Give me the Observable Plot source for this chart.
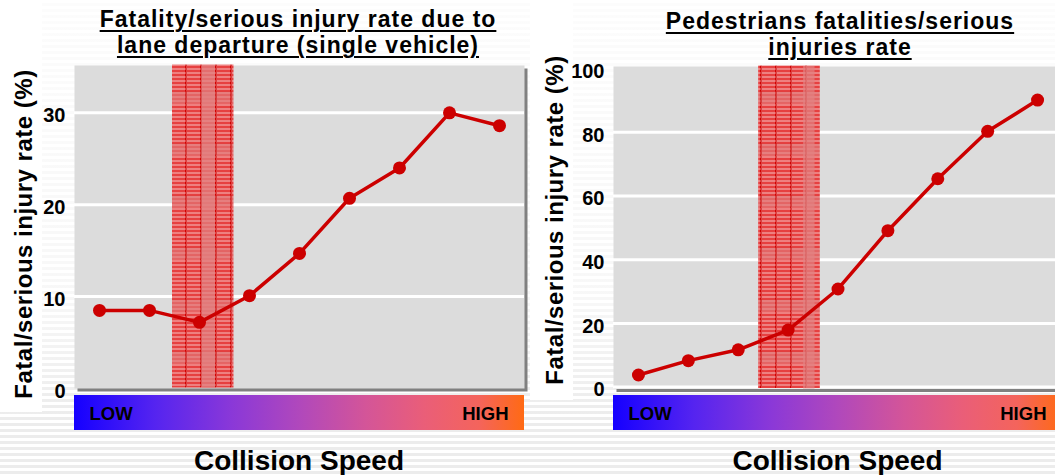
<!DOCTYPE html>
<html>
<head>
<meta charset="utf-8">
<script src="https://cdn.jsdelivr.net/npm/d3@7"></script>
<script src="https://cdn.jsdelivr.net/npm/@observablehq/plot@0.6"></script>
<style>
html, body { margin: 0; padding: 0; width: 1055px; height: 475px; overflow: hidden; background: #fff; }
#page { position: relative; width: 1055px; height: 475px; overflow: hidden; font-family: "Liberation Sans", Arial, Helvetica, sans-serif; color: #000; }
.bg { position: absolute; left: 0; top: 0; width: 1055px; height: 475px;
  background: repeating-linear-gradient(to bottom, #ffffff 0px, #ffffff 3px, #ececec 3px, #ececec 6px); }
.bgfade { position: absolute; left: 0; top: 0; width: 1055px; height: 475px;
  background: linear-gradient(to bottom, rgba(255,255,255,0.85) 0px, rgba(255,255,255,0.6) 300px, rgba(255,255,255,0.0) 420px); }
.whitebox { position: absolute; background: #fff; }
.chart { position: absolute; top: 0; height: 475px; }
.chart svg { max-width: none !important; display: block; }
.title { position: absolute; transform: translateX(-50%); text-align: center; font-size: 23px; font-weight: bold;
  line-height: 26px; letter-spacing: 1px; text-decoration: underline; text-decoration-thickness: 2px;
  text-underline-offset: 3px; white-space: nowrap; }
.ylab { position: absolute; font-size: 24px; font-weight: bold; line-height: 24px; letter-spacing: 0.5px;
  white-space: nowrap; transform: translate(-50%, -50%) rotate(-90deg); }
.bar { position: absolute; top: 395px; height: 34.5px;
  background: linear-gradient(to right, #1500ff 0%, #5524f0 18%, #8a38d8 35%, #b048bc 50%, #d45598 65%, #ea5e78 78%, #f4645c 90%, #ff6a14 100%); }
.bar span { position: absolute; top: 10px; font-size: 18.5px; line-height: 18.5px; font-weight: bold; }
.xlab { position: absolute; top: 447.3px; transform: translateX(-50%); font-size: 28px; line-height: 28px; font-weight: bold; white-space: nowrap; }
</style>
</head>
<body>
<svg width="0" height="0" style="position:absolute;left:0;top:0">
  <defs>
    <pattern id="hatch" x="6" y="0" width="15" height="52" patternUnits="userSpaceOnUse">
      <rect width="15" height="52" fill="#ffffff"/>
      <path id="checkerPath" fill="#dd0000" shape-rendering="crispEdges" d=""/>
      <rect x="0" y="40" width="15" height="12" fill="rgba(225,125,125,0.6)" shape-rendering="crispEdges"/>
      <rect x="0" y="0" width="1" height="52" fill="#c80000" shape-rendering="crispEdges"/>
    </pattern>
  </defs>
</svg>
<div id="page">
  <div class="bg"></div>
  <div class="bgfade"></div>
  <div class="whitebox" style="left:0;top:0;width:42px;height:412px"></div>
  <div class="whitebox" style="left:530px;top:0;width:43px;height:400px"></div>
  <div id="left" class="chart" style="left:0px;width:528px"></div>
  <div id="right" class="chart" style="left:530px;width:536px"></div>
</div>
<script>
// ---- data ----
const speedIndex = [0, 1, 2, 3, 4, 5, 6, 7, 8];
const laneDepartureRate = [8.5, 8.5, 7.2, 10.1, 14.7, 20.7, 24.0, 30.0, 28.6];
const pedestrianRate = [3.8, 8.3, 11.7, 17.9, 30.8, 49.1, 65.4, 80.3, 90.1];
const laneTicks = [0, 10, 20, 30];
const pedTicks = [0, 20, 40, 60, 80, 100];
const laneBand = [1.47, 2.70];
const laneStripe = [2.05, 2.32];
const pedBand = [2.42, 3.655];
const pedStripe = [3.31, 3.54];
const titles = ["Fatality/serious injury rate due to\nlane departure (single vehicle)", "Pedestrians fatalities/serious\ninjuries rate"];
const yLabel = "Fatal/serious injury rate (%)";
const xLabel = "Collision Speed";
const speedEnds = ["LOW", "HIGH"];

const RED = "#cc0000";
const FONT = '"Liberation Sans", Arial, Helvetica, sans-serif';

// build a dense 1px red checker (with extra red rows) inside the hatch tile
(function () {
  let d = "";
  for (let y = 0; y < 52; y++) {
    if (y % 4 === 3) { d += `M0,${y}h15v1h-15z`; continue; }
    for (let x = (y % 2); x < 15; x += 2) d += `M${x},${y}h1v1h-1z`;
  }
  document.getElementById("checkerPath").setAttribute("d", d);
})();

function makeChart({values, ticks, yDomain, band, stripe, width, marginLeft, marginTop, marginBottom}) {
  const data = speedIndex.map((x, i) => ({x, y: values[i]}));
  const grid = ticks.filter(t => t > yDomain[0] && t < yDomain[1] - 2);
  return Plot.plot({
    width, height: 475,
    marginLeft, marginRight: 4, marginTop, marginBottom,
    x: {domain: [-0.5, 8.5], axis: null},
    y: {domain: yDomain, axis: null},
    style: {background: "transparent", fontFamily: FONT, overflow: "visible", color: "#000"},
    marks: [
      Plot.frame({fill: "#808080", stroke: null, dx: 3, dy: 3}),
      Plot.frame({fill: "#dcdcdc", stroke: null}),
      Plot.ruleY(grid, {stroke: "#ffffff", strokeWidth: 3}),
      Plot.rect([band], {x1: d => d[0], x2: d => d[1], fill: "url(#hatch)", dx: -0.5, dy: -0.5}),
      Plot.rect([stripe], {x1: d => d[0], x2: d => d[1], fill: "rgba(225,130,130,0.7)"}),
      Plot.line(data, {x: "x", y: "y", stroke: RED, strokeWidth: 3.5}),
      Plot.dot(data, {x: "x", y: "y", r: 6.5, fill: RED, stroke: null}),
      Plot.axisY(ticks, {tickSize: 0, tickPadding: 9, dy: 3, fontSize: 20, fontWeight: "bold", fill: "#000", label: null, tickFormat: d => String(d)})
    ]
  });
}

function decorate(container, {plotLeft, plotWidth, titleTop, titleCenter, ylabX, ylabY, title}) {
  const t = document.createElement("div");
  t.className = "title";
  t.style.left = titleCenter + "px";
  t.style.top = titleTop + "px";
  t.innerHTML = title.split("\n").join("<br>");
  container.appendChild(t);

  const yl = document.createElement("div");
  yl.className = "ylab";
  yl.style.left = ylabX + "px";
  yl.style.top = ylabY + "px";
  yl.textContent = yLabel;
  container.appendChild(yl);

  const bar = document.createElement("div");
  bar.className = "bar";
  bar.style.left = plotLeft + "px";
  bar.style.width = plotWidth + "px";
  const lo = document.createElement("span");
  lo.textContent = speedEnds[0];
  lo.style.left = "15.5px";
  const hi = document.createElement("span");
  hi.textContent = speedEnds[1];
  hi.style.right = "15.5px";
  bar.appendChild(lo); bar.appendChild(hi);
  container.appendChild(bar);

  const xl = document.createElement("div");
  xl.className = "xlab";
  xl.style.left = (plotLeft + plotWidth / 2) + "px";
  xl.textContent = xLabel;
  container.appendChild(xl);
}

const left = document.getElementById("left");
left.appendChild(makeChart({
  values: laneDepartureRate, ticks: laneTicks, yDomain: [0, 35.15],
  band: laneBand, stripe: laneStripe, width: 528, marginLeft: 74, marginTop: 65, marginBottom: 475 - 388
}));
decorate(left, {plotLeft: 74, plotWidth: 450, titleTop: 6.3, titleCenter: 298, ylabX: 23.7, ylabY: 234, title: titles[0]});

const right = document.getElementById("right");
right.appendChild(makeChart({
  values: pedestrianRate, ticks: pedTicks, yDomain: [-0.6, 100.65],
  band: pedBand, stripe: pedStripe, width: 536, marginLeft: 83, marginTop: 66, marginBottom: 475 - 388.5
}));
decorate(right, {plotLeft: 83, plotWidth: 449, titleTop: 8.3, titleCenter: 310, ylabX: 24.7, ylabY: 220, title: titles[1]});
</script>
</body>
</html>
